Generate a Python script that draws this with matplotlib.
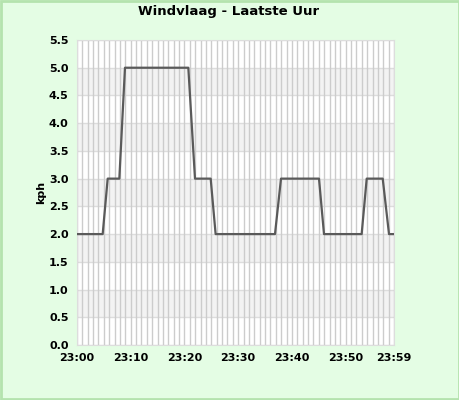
import matplotlib
matplotlib.use('Agg')
import matplotlib.pyplot as plt
import numpy as np

# minutes after 23:00 and gust speed (kph)
minutes = [0, 4.78, 5.71, 7.88, 8.93, 20.72, 21.96, 24.88, 25.8,
           36.85, 37.97, 45.04, 45.97, 52.98, 53.92, 56.9, 58.07, 59]
gust = [2.0, 2.0, 3.0, 3.0, 5.0, 5.0, 3.0, 3.0, 2.0,
        2.0, 3.0, 3.0, 2.0, 2.0, 3.0, 3.0, 2.0, 2.0]

xticks = [0, 10, 20, 30, 40, 50, 59]
xticklabels = ['23:00', '23:10', '23:20', '23:30', '23:40', '23:50', '23:59']
yticks = np.arange(0, 5.51, 0.5)

fig = plt.figure(figsize=(4.6, 4.0), dpi=100, facecolor='#e4fde4')
fig.patches.append(plt.Rectangle((0.002, 0.0025), 0.996, 0.995, transform=fig.transFigure,
                                 fill=False, edgecolor='#b4e3ae', lw=2))
ax = fig.add_axes([77/460, 1-345/400, (394-77)/460, (345-40)/400])
ax.set_facecolor('white')

# alternating bands
for lo in [0.5, 1.5, 2.5, 3.5, 4.5]:
    ax.axhspan(lo, lo + 0.5, color='#f3f3f3', zorder=0, lw=0)
for y in yticks:
    ax.axhline(y, color='#dddddd', lw=1, zorder=1)
for m in range(60):
    ax.axvline(m, color='#cccccc', lw=1, zorder=1)

ax.plot(minutes, gust, color='#5a5a5a', lw=1.6, zorder=3)

ax.set_xlim(0, 59)
ax.set_ylim(0, 5.5)
ax.set_xticks(xticks)
ax.set_xticklabels(xticklabels, fontsize=8, fontweight='bold')
ax.set_yticks(yticks)
ax.set_yticklabels(['%.1f' % v for v in yticks], fontsize=8, fontweight='bold')
ax.tick_params(length=0, pad=6)
for s in ax.spines.values():
    s.set_color('#dddddd')
ax.set_ylabel('kph', fontsize=8, fontweight='bold', labelpad=2)

fig.text(0.497, 0.97, 'Windvlaag - Laatste Uur', ha='center', va='center',
         fontsize=9.5, fontweight='bold')

fig.savefig('out.png', dpi=100, facecolor=fig.get_facecolor())
